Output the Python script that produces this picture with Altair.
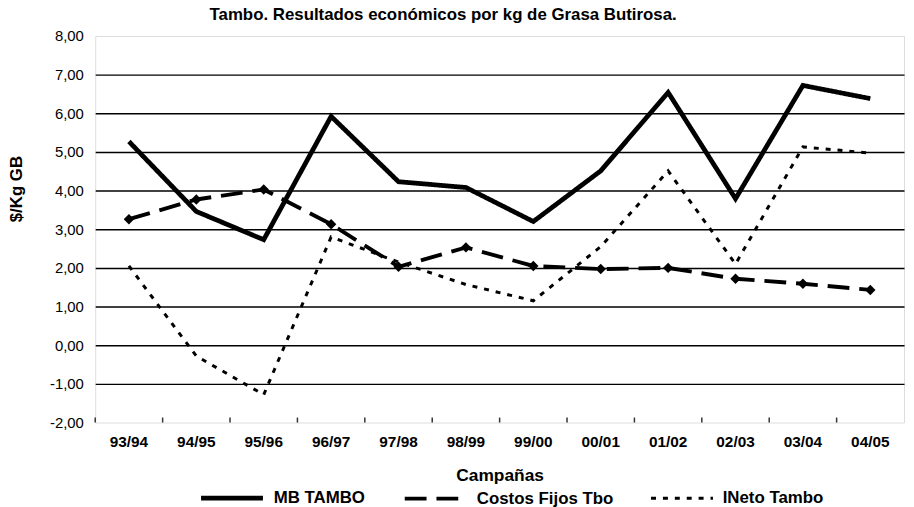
import altair as alt
import pandas as pd

campanas = ["93/94", "94/95", "95/96", "96/97", "97/98", "98/99",
            "99/00", "00/01", "01/02", "02/03", "03/04", "04/05"]
mb_tambo = [5.27, 3.46, 2.73, 5.92, 4.23, 4.08, 3.20, 4.51, 6.54, 3.79, 6.72, 6.38]
costos_fijos = [3.26, 3.77, 4.03, 3.13, 2.03, 2.53, 2.05, 1.97, 2.00, 1.72, 1.59, 1.43]
ineto_tambo = [2.05, -0.28, -1.28, 2.80, 2.15, 1.57, 1.15, 2.55, 4.51, 2.10, 5.13, 4.97]
series = ["MB TAMBO", "Costos Fijos Tbo", "INeto Tambo"]
y_ticks = [-2, -1, 0, 1, 2, 3, 4, 5, 6, 7, 8]

rows = []
for name, vals in zip(series, [mb_tambo, costos_fijos, ineto_tambo]):
    for c, v in zip(campanas, vals):
        rows.append({"campana": c, "valor": v, "serie": name})
df = pd.DataFrame(rows)
df_ticks = pd.DataFrame({"campana": campanas, "valor": [-2] * len(campanas)})

FONT = "Liberation Sans"

x_scale = alt.Scale(type="band", paddingInner=0, paddingOuter=0)
x_axis = alt.Axis(
    title="Campañas",
    labelAngle=0,
    labelFont=FONT,
    labelFontSize=15.5,
    labelFontWeight="bold",
    labelColor="black",
    labelPadding=12,
    ticks=False,
    domain=False,
    grid=False,
    titleFont=FONT,
    titleFontSize=17.5,
    titleFontWeight="bold",
    titleColor="black",
    titlePadding=17,
)
y_scale = alt.Scale(domain=[-2, 8], nice=False, zero=False)
y_axis = alt.Axis(
    title="$/Kg GB",
    values=y_ticks,
    labelExpr="replace(replace(format(datum.value, '.2f'), '.', ','), '\u2212', '-')",
    labelFont=FONT,
    labelFontSize=15,
    labelColor="black",
    labelPadding=12,
    labelOverlap=False,
    ticks=False,
    domain=False,
    grid=True,
    gridColor="black",
    gridWidth=1.5,
    gridOpacity={"condition": {"test": "datum.value == 8 || datum.value == -2", "value": 0}, "value": 1},
    titleFont=FONT,
    titleFontSize=17,
    titleFontWeight="bold",
    titleColor="black",
    titleAngle=270,
    titleX=-79,
    titleY=154,
    titleAlign="center",
    titleBaseline="middle",
)

x_enc = alt.X("campana:N", sort=campanas, scale=x_scale, axis=x_axis)
y_enc = alt.Y("valor:Q", scale=y_scale, axis=y_axis)

legend = alt.Legend(
    title=None,
    orient="none",
    legendX=104,
    legendY=432,
    padding=0,
    direction="horizontal",
    symbolType="stroke",
    symbolSize=3900,
    symbolStrokeColor="black",
    labelFont=FONT,
    labelFontSize=17,
    labelFontWeight="bold",
    labelColor="black",
    columnPadding=31,
    labelOffset=8,
)

base = alt.Chart(df).encode(x=x_enc, y=y_enc)

lines = base.mark_line(color="black").encode(
    strokeDash=alt.StrokeDash(
        "serie:N",
        sort=series,
        scale=alt.Scale(domain=series, range=[[1, 0], [22, 10], [5, 7]]),
        legend=legend,
    ),
    strokeWidth=alt.StrokeWidth(
        "serie:N",
        sort=series,
        scale=alt.Scale(domain=series, range=[4.8, 3, 3]),
        legend=legend,
    ),
    order=alt.Order("serie:N", sort="ascending"),
)

points = base.transform_filter(
    alt.datum.serie == "Costos Fijos Tbo"
).mark_point(shape="diamond", filled=True, color="black", size=110, opacity=1)

ticks = alt.Chart(df_ticks).mark_rule(color="#333333", strokeWidth=1.5).encode(
    x=alt.X("campana:N", sort=campanas, bandPosition=0, scale=x_scale, axis=x_axis),
    y=alt.value(390),
    y2=alt.value(385),
)

chart = alt.layer(lines, points, ticks).properties(
    width=816,
    height=390,
    autosize=alt.AutoSizeParams(type="none"),
    padding={"left": 88, "top": 26, "right": 2, "bottom": 83},
    title=alt.TitleParams(
        "Tambo. Resultados económicos por kg de Grasa Butirosa.",
        font=FONT,
        fontSize=17,
        fontWeight="bold",
        color="black",
        anchor="middle",
        dx=-57,
        offset=5,
    ),
).configure_view(
    stroke="#808080", strokeWidth=2
).configure(background="white")

chart.save("out.html", embed_options={"renderer": "svg", "actions": False})
